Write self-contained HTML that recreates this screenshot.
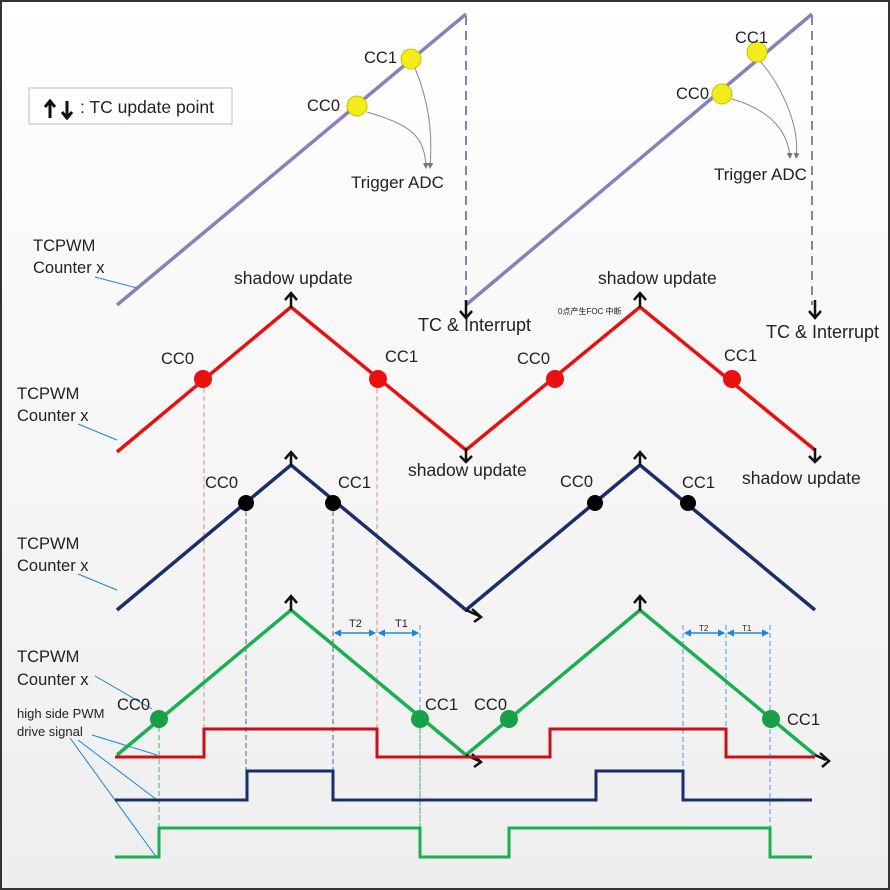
<!DOCTYPE html>
<html><head><style>
html,body{margin:0;padding:0}
body{width:890px;height:890px;overflow:hidden}
svg{display:block}
text{font-family:"Liberation Sans","Noto Sans CJK SC",sans-serif;fill:#222}
</style></head><body>
<svg width="890" height="890" viewBox="0 0 890 890" xmlns="http://www.w3.org/2000/svg">
<defs>
<linearGradient id="bg" x1="0" y1="0" x2="0" y2="1"><stop offset="0" stop-color="#ffffff"/><stop offset="1" stop-color="#eeeeee"/></linearGradient>
<marker id="bl" markerWidth="6" markerHeight="6" refX="5" refY="3" orient="auto"><path d="M0,0 L6,3 L0,6 Z" fill="#1a86d8"/></marker>
<marker id="gr" markerWidth="6" markerHeight="6" refX="5" refY="3" orient="auto"><path d="M0,0 L6,3 L0,6 Z" fill="#777"/></marker>
</defs>
<rect x="0" y="0" width="890" height="890" fill="url(#bg)"/>
<rect x="1" y="1" width="888" height="888" fill="none" stroke="#333" stroke-width="2"/>

<!-- legend -->
<rect x="29" y="88" width="203" height="36" fill="#fff" stroke="#bbb"/>
<g stroke="#111" stroke-width="3" fill="none"><path d="M50,118 V102 M45,107 L50,101 L55,107"/><path d="M67,101 V117 M62,112 L67,118 L72,112"/></g>
<text x="80" y="113" font-size="17.5">: TC update point</text>

<!-- purple sawtooth -->
<g stroke="#8a7fb8" stroke-width="3.5" fill="none">
<line x1="117" y1="305" x2="466" y2="14"/>
<line x1="466" y1="305" x2="812" y2="14"/>
</g>
<g stroke="#8a7fb8" stroke-width="2" stroke-dasharray="9,6"><line x1="466" y1="16" x2="466" y2="305"/><line x1="812" y1="16" x2="812" y2="305"/></g>
<g stroke="#111" stroke-width="2.5" fill="none"><path d="M466,300 V318 M460,311 L466,318 L472,311"/><path d="M815,300 V318 M809,311 L815,318 L821,311"/></g>
<g fill="none" stroke="#888" stroke-width="1">
<path d="M367,112 C410,125 425,135 426,168" marker-end="url(#gr)"/><path d="M415,68 C428,100 433,130 430,168" marker-end="url(#gr)"/>
<path d="M732,99 C770,110 788,130 790,158" marker-end="url(#gr)"/><path d="M760,61 C785,90 800,130 796,158" marker-end="url(#gr)"/>
</g>
<g fill="#f2ec1a" stroke="#c9c000"><circle cx="411" cy="59" r="10"/><circle cx="357" cy="106" r="10"/><circle cx="757" cy="52" r="10"/><circle cx="722" cy="94" r="10"/></g>
<g font-size="16.5"><text x="364" y="63">CC1</text><text x="307" y="111">CC0</text><text x="735" y="43">CC1</text><text x="676" y="99">CC0</text>
<text x="351" y="188" font-size="17">Trigger ADC</text><text x="714" y="180" font-size="17">Trigger ADC</text>
<text x="33" y="251">TCPWM</text><text x="33" y="273">Counter x</text>
<text x="234" y="284" font-size="17.5">shadow update</text><text x="598" y="284" font-size="17.5">shadow update</text>
<text x="418" y="331" font-size="18">TC &amp; Interrupt</text><text x="766" y="338" font-size="18">TC &amp; Interrupt</text>
<text x="408" y="476" font-size="17.5">shadow update</text><text x="742" y="484" font-size="17.5">shadow update</text>
<text x="17" y="399">TCPWM</text><text x="17" y="421">Counter x</text>
<text x="17" y="549">TCPWM</text><text x="17" y="571">Counter x</text>
<text x="17" y="662">TCPWM</text><text x="17" y="685">Counter x</text>
</g>
<text x="558" y="314" font-size="8" fill="#555">0点产生FOC 中断</text>
<g stroke="#1a86d8" stroke-width="1" fill="none">
<line x1="95" y1="277" x2="137" y2="288"/><line x1="78" y1="424" x2="117" y2="440"/><line x1="78" y1="574" x2="117" y2="590"/>
<line x1="95" y1="676" x2="152" y2="709"/><line x1="92" y1="735" x2="157" y2="755"/><line x1="78" y1="740" x2="157" y2="800"/><line x1="70" y1="738" x2="157" y2="858"/>
</g>
<g font-size="13"><text x="17" y="718">high side PWM</text><text x="17" y="736">drive signal</text></g>

<!-- dashed verticals -->
<g stroke="#f08080" stroke-width="1" stroke-dasharray="5,3"><line x1="204" y1="380" x2="204" y2="729"/><line x1="377" y1="380" x2="377" y2="729"/></g>
<g stroke="#5060a0" stroke-width="1" stroke-dasharray="5,3"><line x1="246" y1="503" x2="246" y2="771"/><line x1="333" y1="503" x2="333" y2="771"/></g>
<g stroke="#4aa0e0" stroke-width="1" stroke-dasharray="5,3"><line x1="683" y1="625" x2="683" y2="771"/><line x1="726" y1="625" x2="726" y2="729"/><line x1="770" y1="625" x2="770" y2="828"/><line x1="420" y1="625" x2="420" y2="828"/></g>
<g stroke="#40b070" stroke-width="1" stroke-dasharray="5,3"><line x1="159" y1="719" x2="159" y2="857"/><line x1="420" y1="719" x2="420" y2="857"/></g>
<g stroke="#1a86d8" stroke-width="1.2">
<line x1="336" y1="633" x2="375" y2="633" marker-end="url(#bl)"/><line x1="374" y1="633" x2="335" y2="633" marker-end="url(#bl)"/>
<line x1="380" y1="633" x2="418" y2="633" marker-end="url(#bl)"/><line x1="417" y1="633" x2="379" y2="633" marker-end="url(#bl)"/>
<line x1="686" y1="633" x2="724" y2="633" marker-end="url(#bl)"/><line x1="723" y1="633" x2="685" y2="633" marker-end="url(#bl)"/>
<line x1="729" y1="633" x2="768" y2="633" marker-end="url(#bl)"/><line x1="767" y1="633" x2="728" y2="633" marker-end="url(#bl)"/>
</g>
<g font-size="11"><text x="349" y="627" fill="#1a86d8">T2</text><text x="395" y="627" fill="#1a86d8">T1</text><text x="699" y="631" fill="#1a86d8" font-size="8">T2</text><text x="742" y="631" fill="#1a86d8" font-size="8">T1</text></g>

<polyline points="117,452 291,307 466,450 640,307 815,450" fill="none" stroke="#e81010" stroke-width="3.5"/>
<polyline points="117,610 291,465 466,610 640,465 815,610" fill="none" stroke="#1a2e6a" stroke-width="3.5"/>
<polyline points="117,755 291,610 466,755 640,610 815,755" fill="none" stroke="#18b050" stroke-width="3.5"/>

<g stroke="#111" stroke-width="2.5" fill="none">
<path d="M291,308 V293 M285,300 L291,293 L297,300"/><path d="M640,308 V293 M634,300 L640,293 L646,300"/>
<path d="M466,448 V462 M460,456 L466,462 L472,456"/><path d="M815,448 V462 M809,456 L815,462 L821,456"/>
<path d="M291,466 V452 M285,459 L291,452 L297,459"/><path d="M640,466 V452 M634,459 L640,452 L646,459"/>
<path d="M291,611 V596 M285,603 L291,596 L297,603"/><path d="M640,611 V596 M634,603 L640,596 L646,603"/>
<path d="M466,610 L479,616 M472,609 L481,617 L474,622"/>
<path d="M466,755 L479,761 M472,754 L481,762 L474,767"/><path d="M815,755 L826,760 M820,753 L829,761 L822,767"/>
</g>

<polyline points="115,757 204,757 204,729 377,729 377,757 550,757 550,729 726,729 726,757 815,757" fill="none" stroke="#c8101a" stroke-width="3"/>
<polyline points="115,800 247,800 247,771 333,771 333,800 596,800 596,771 683,771 683,800 812,800" fill="none" stroke="#1a2e6a" stroke-width="3"/>
<polyline points="115,857 159,857 159,828 420,828 420,857 509,857 509,828 770,828 770,857 812,857" fill="none" stroke="#18b050" stroke-width="3"/>

<g fill="#e81010"><circle cx="203" cy="379" r="9"/><circle cx="378" cy="379" r="9"/><circle cx="555" cy="379" r="9"/><circle cx="732" cy="379" r="9"/></g>
<g fill="#000"><circle cx="246" cy="503" r="8"/><circle cx="333" cy="503" r="8"/><circle cx="595" cy="503" r="8"/><circle cx="688" cy="503" r="8"/></g>
<g fill="#18a048"><circle cx="159" cy="719" r="9"/><circle cx="420" cy="719" r="9"/><circle cx="509" cy="719" r="9"/><circle cx="771" cy="719" r="9"/></g>
<g font-size="16.5">
<text x="161" y="364">CC0</text><text x="385" y="362">CC1</text><text x="517" y="364">CC0</text><text x="724" y="361">CC1</text>
<text x="205" y="488">CC0</text><text x="338" y="488">CC1</text><text x="560" y="487">CC0</text><text x="682" y="488">CC1</text>
<text x="117" y="710">CC0</text><text x="425" y="710">CC1</text><text x="474" y="710">CC0</text><text x="787" y="725">CC1</text>
</g>
</svg>
</body></html>
